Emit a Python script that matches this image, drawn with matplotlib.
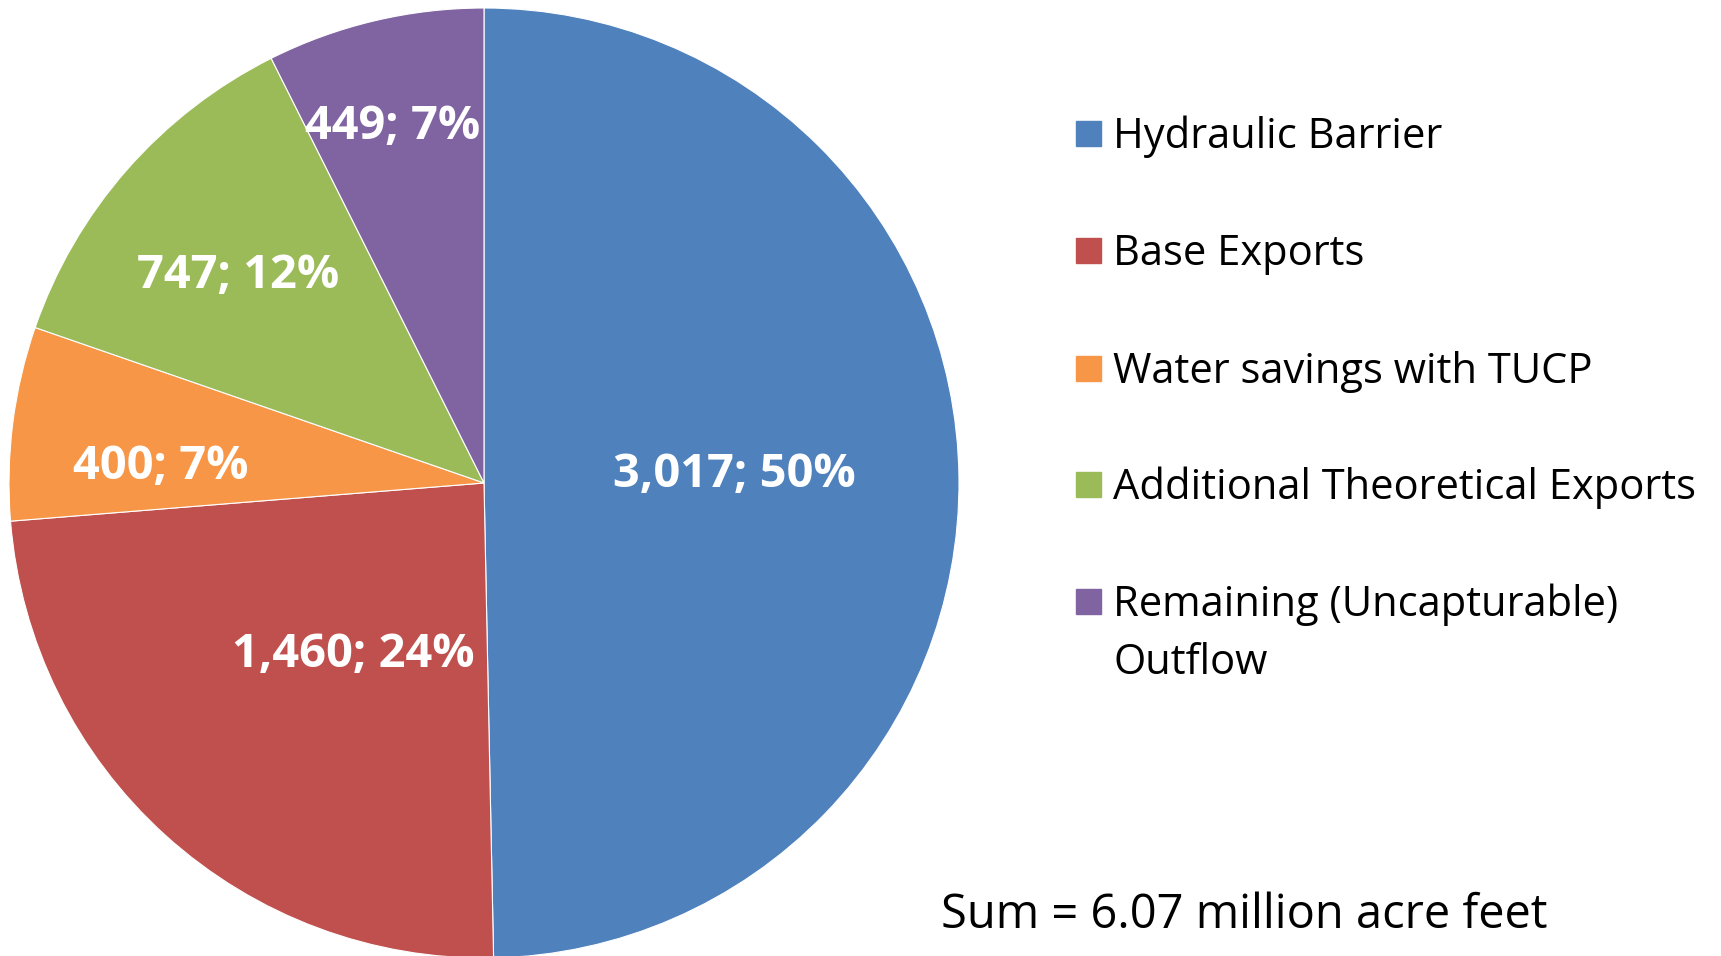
import matplotlib.pyplot as plt
from matplotlib.patches import Rectangle

categories = ['Hydraulic Barrier', 'Base Exports', 'Water savings with TUCP',
              'Additional Theoretical Exports', 'Remaining (Uncapturable)\nOutflow']
values = [3017, 1460, 400, 747, 449]
percents = [50, 24, 7, 12, 7]
colors = ['#4F81BD', '#C0504D', '#F79646', '#9BBB59', '#8064A2']
total_text = 'Sum = 6.07 million acre feet'

# label positions inside the pie (axes data units, radius 1)
label_pos = [(0.528, 0.018), (-0.276, -0.361), (-0.681, 0.035), (-0.518, 0.437), (-0.193, 0.751)]


def main():
    plt.rcParams['font.family'] = ['Open Sans', 'DejaVu Sans']
    W, H = 1721, 956
    fig = plt.figure(figsize=(W / 100, H / 100), dpi=100)

    cx, cy, r = 484, 473, 475
    ax = fig.add_axes([(cx - r) / W, (cy - r) / H, 2 * r / W, 2 * r / H])
    ax.pie(values, colors=colors, startangle=90, counterclock=False, radius=1,
           wedgeprops=dict(edgecolor='white', linewidth=0.8))
    ax.set_xlim(-1, 1)
    ax.set_ylim(-1, 1)
    ax.set_aspect('equal')
    ax.axis('off')

    for (x, y), v, p in zip(label_pos, values, percents):
        ax.text(x, y, '{:,}; {}%'.format(v, p), color='white', fontsize=33.8,
                fontweight='bold', ha='center', va='center')

    # legend drawn by hand
    baselines = [148, 265, 383, 499, 616]
    for yb, c, name in zip(baselines, colors, categories):
        fig.patches.append(Rectangle((1076 / W, 1 - (yb - 2) / H), 25 / W, 25 / H,
                                     transform=fig.transFigure, color=c))
        for i, line in enumerate(name.split('\n')):
            fig.text(1113 / W, 1 - (yb + 58 * i) / H, line, fontsize=30,
                     va='baseline', ha='left')

    fig.text(941 / W, 1 - 928 / H, total_text, fontsize=33.8, ha='left', va='baseline')

    fig.savefig('out.png', dpi=100, facecolor='white')


if __name__ == '__main__':
    main()
